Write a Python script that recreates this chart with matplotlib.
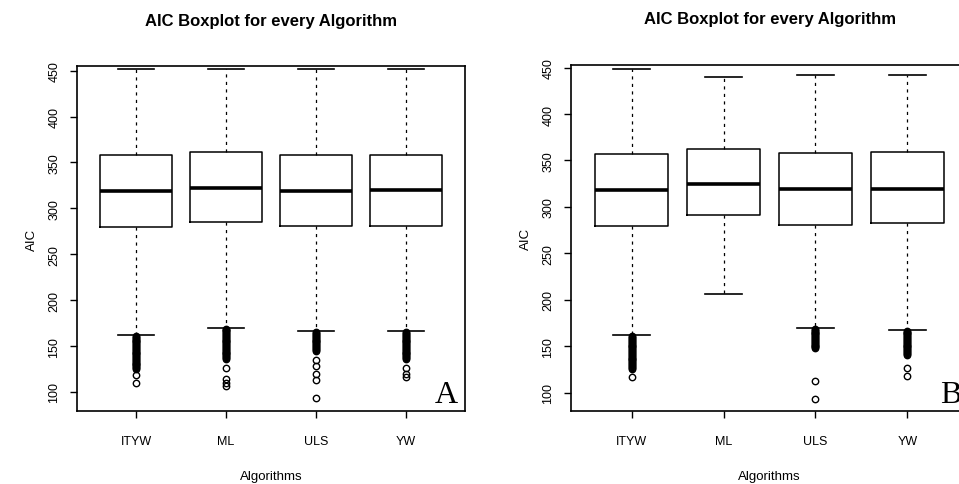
import matplotlib
matplotlib.use("Agg")
import matplotlib.pyplot as plt

plt.rcParams["font.family"] = ["Liberation Sans", "DejaVu Sans"]

# ---- data -------------------------------------------------------------
algorithms = ["ITYW", "ML", "ULS", "YW"]
yticks = [100, 150, 200, 250, 300, 350, 400, 450]

# Panel A
a_q1 = [280, 285, 281, 281]
a_med = [319, 322, 319, 320]
a_q3 = [358, 361, 358, 358]
a_whislo = [162, 170, 166, 166]
a_whishi = [452, 452, 452, 452]
a_out_ityw = [161, 160, 159, 158, 157, 156, 155, 154, 153, 152, 151, 150, 149,
              148, 147, 146, 145, 144, 143, 142, 141, 140, 139, 138, 137, 136,
              135, 134, 133, 132, 131, 130, 129, 128, 127, 126, 125, 118, 110]
a_out_ml = [169, 168, 167, 166, 165, 164, 163, 162, 161, 160, 159, 158, 157,
            156, 155, 154, 153, 152, 151, 150, 149, 148, 147, 146, 145, 144,
            143, 142, 141, 140, 139, 138, 137, 136, 126, 114, 110, 107]
a_out_uls = [165, 164, 163, 162, 161, 160, 159, 158, 157, 156, 155, 154, 153,
             152, 151, 150, 149, 148, 147, 146, 145, 135, 128, 120, 113, 94]
a_out_yw = [165, 164, 163, 162, 161, 160, 159, 158, 157, 156, 155, 154, 153,
            152, 151, 150, 149, 148, 147, 146, 145, 144, 143, 142, 141, 140,
            139, 138, 137, 136, 126, 120, 116]

# Panel B
b_q1 = [280, 291, 281, 283]
b_med = [318, 325, 319, 319]
b_q3 = [357, 362, 358, 359]
b_whislo = [162, 206, 170, 168]
b_whishi = [448, 440, 442, 442]
b_out_ityw = [161, 160, 159, 158, 157, 156, 155, 154, 153, 152, 151, 150, 149,
              148, 147, 146, 145, 144, 143, 142, 141, 140, 139, 138, 137, 136,
              135, 134, 133, 132, 131, 130, 129, 128, 127, 126, 117.5]
b_out_ml = []
b_out_uls = [169, 168, 167, 166, 165, 164, 163, 162, 161, 160, 159, 158, 157,
             156, 155, 154, 153, 152, 151, 150, 149, 148, 113, 94]
b_out_yw = [167, 166, 165, 164, 163, 162, 161, 160, 159, 158, 157, 156, 155,
            154, 153, 152, 151, 150, 149, 148, 147, 146, 145, 144, 143, 142,
            141, 126.5, 118]


def make_stats(q1, med, q3, lo, hi, outs):
    return [dict(q1=q1[i], med=med[i], q3=q3[i], whislo=lo[i], whishi=hi[i],
                 fliers=outs[i], label=algorithms[i]) for i in range(len(q1))]


def draw_panel(ax, stats, ylim, letter):
    ax.bxp(stats, positions=[1, 2, 3, 4], widths=0.8, capwidths=0.4,
           showfliers=True,
           boxprops=dict(color="black", linewidth=1.1),
           medianprops=dict(color="black", linewidth=2.6, solid_capstyle="butt"),
           whiskerprops=dict(color="black", linewidth=0.9, linestyle=(0, (2.5, 3.5))),
           capprops=dict(color="black", linewidth=1.2),
           flierprops=dict(marker="o", markerfacecolor="none",
                           markeredgecolor="black", markersize=4.6,
                           markeredgewidth=1.0, linestyle="none"))
    ax.set_xlim(0.34, 4.66)
    ax.set_ylim(*ylim)
    ax.set_yticks(yticks)
    ax.set_yticklabels([str(v) for v in yticks], rotation=90, va="center")
    ax.set_xticks([1, 2, 3, 4])
    ax.set_xticklabels(algorithms)
    for s in ax.spines.values():
        s.set_linewidth(1.2)
        s.set_color("black")
    ax.tick_params(axis="both", direction="out", length=5, width=1.0,
                   labelsize=9, colors="black")
    ax.tick_params(axis="x", pad=12)
    ax.tick_params(axis="y", pad=7)

    ax.text(0.5, 1.133, "AIC Boxplot for every Algorithm", transform=ax.transAxes,
            ha="center", va="center", fontsize=12, fontweight="bold")
    ax.text(0.5, -0.188, "Algorithms", transform=ax.transAxes,
            ha="center", va="center", fontsize=9.5)
    ax.text(-45 / ax.bbox.width, 0.5, "AIC", transform=ax.transAxes,
            rotation=90, ha="center", va="center", fontsize=9.5)
    ax.text(1 - 7 / ax.bbox.width, 9 / ax.bbox.height, letter,
            transform=ax.transAxes, ha="right", va="baseline", fontsize=23,
            family=["Liberation Serif", "DejaVu Serif"])


fig = plt.figure(figsize=(9.59, 4.85), dpi=100)
ax_a = fig.add_axes([77 / 959, 73 / 485, 388 / 959, 345 / 485])
ax_b = fig.add_axes([571 / 959, 73 / 485, 397 / 959, 346 / 485])

stats_a = make_stats(a_q1, a_med, a_q3, a_whislo, a_whishi,
                     [a_out_ityw, a_out_ml, a_out_uls, a_out_yw])
stats_b = make_stats(b_q1, b_med, b_q3, b_whislo, b_whishi,
                     [b_out_ityw, b_out_ml, b_out_uls, b_out_yw])

draw_panel(ax_a, stats_a, (79.3, 455), "A")
draw_panel(ax_b, stats_b, (80.6, 452.7), "B")

fig.savefig("out.png", dpi=100)
